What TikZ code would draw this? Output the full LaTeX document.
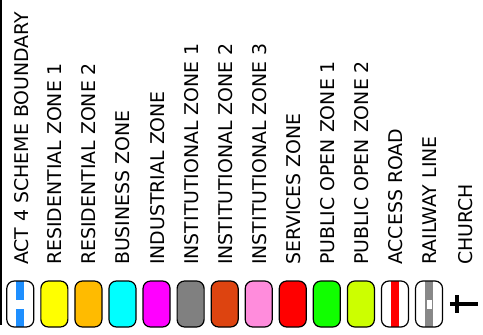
\documentclass[tikz,border=0pt]{standalone}
\usepackage{fontspec}
\setmainfont{DejaVu Sans}
\usepackage{tikz}
\usetikzlibrary{positioning}

\definecolor{boundblue}{HTML}{1E8FFF}
\definecolor{resone}{HTML}{FFFF00}
\definecolor{restwo}{HTML}{FFBB00}
\definecolor{business}{HTML}{00FFFF}
\definecolor{industrial}{HTML}{FF00FF}
\definecolor{instone}{HTML}{808080}
\definecolor{insttwo}{HTML}{DD4410}
\definecolor{instthree}{HTML}{FF8CDC}
\definecolor{services}{HTML}{FF0000}
\definecolor{openone}{HTML}{11FF00}
\definecolor{opentwo}{HTML}{CCFF00}
\definecolor{railgray}{HTML}{888888}

\begin{document}
\begin{tikzpicture}[
        x=1pt, y=1pt,
        node distance=7.06pt,
        swatch/.style={
            rectangle,
            draw,
            rounded corners=7.5pt,
            minimum width=27pt,
            minimum height=46pt,
            inner sep=0pt,
            outer sep=0pt,
            line width=1.2pt
        },
        stripe/.style={
            path picture={
                \fill[#1, sharp corners] ([xshift=-4pt]path picture bounding box.north)
                    rectangle ([xshift=4pt]path picture bounding box.south);
            }
        },
        gapstripe/.style 2 args={
            path picture={
                \fill[#1, sharp corners] ([xshift=-4pt]path picture bounding box.north)
                    rectangle ([xshift=4pt]path picture bounding box.south);
                \fill[white, sharp corners] ([xshift=-#2, yshift=-4.5pt]path picture bounding box.center)
                    rectangle ([xshift=#2, yshift=4.5pt]path picture bounding box.center);
            }
        },
        lbl/.style={
            rotate=90,
            anchor=base west,
            inner sep=0pt,
            font=\fontsize{18.9}{20}\selectfont
        },
        churchcross/.style={
            line width=4.5pt
        }
    ]

    \useasboundingbox (0,0) rectangle (483,-335);

    % Swatches
    \node[swatch, gapstripe={boundblue}{4.5pt}] (s1) at (20.3,-304) {};
    \node[swatch, fill=resone, right=of s1] (s2) {};
    \node[swatch, fill=restwo, right=of s2] (s3) {};
    \node[swatch, fill=business, right=of s3] (s4) {};
    \node[swatch, fill=industrial, right=of s4] (s5) {};
    \node[swatch, fill=instone, right=of s5] (s6) {};
    \node[swatch, fill=insttwo, right=of s6] (s7) {};
    \node[swatch, fill=instthree, right=of s7] (s8) {};
    \node[swatch, fill=services, right=of s8] (s9) {};
    \node[swatch, fill=openone, right=of s9] (s10) {};
    \node[swatch, fill=opentwo, right=of s10] (s11) {};
    \node[swatch, stripe=services, right=of s11] (s12) {};
    \node[swatch, gapstripe={railgray}{2.5pt}, right=of s12] (s13) {};
    \node[minimum width=28pt, minimum height=18pt, inner sep=0pt, outer sep=0pt, right=7.4pt of s13] (s14) {};

    % Church
    \draw[churchcross] (s14.west) -- (s14.east);
    \draw[churchcross] ([xshift=7pt]s14.north west) -- ([xshift=7pt]s14.south west);

    % Labels
    \node[lbl] (l1) at ([xshift=7.8pt, yshift=16pt]s1.north) {ACT 4 SCHEME BOUNDARY};
    \node[lbl] (l2) at ([xshift=7.5pt, yshift=16pt]s2.north) {RESIDENTIAL ZONE 1};
    \node[lbl] (l3) at ([xshift=7.5pt, yshift=16pt]s3.north) {RESIDENTIAL ZONE 2};
    \node[lbl] (l4) at ([xshift=7.5pt, yshift=16pt]s4.north) {BUSINESS ZONE};
    \node[lbl] (l5) at ([xshift=7.5pt, yshift=16pt]s5.north) {INDUSTRIAL ZONE};
    \node[lbl] (l6) at ([xshift=7.5pt, yshift=16pt]s6.north) {INSTITUTIONAL ZONE 1};
    \node[lbl] (l7) at ([xshift=7.5pt, yshift=16pt]s7.north) {INSTITUTIONAL ZONE 2};
    \node[lbl] (l8) at ([xshift=7.5pt, yshift=16pt]s8.north) {INSTITUTIONAL ZONE 3};
    \node[lbl] (l9) at ([xshift=7.5pt, yshift=16pt]s9.north) {SERVICES ZONE};
    \node[lbl] (l10) at ([xshift=7.5pt, yshift=16pt]s10.north) {PUBLIC OPEN ZONE 1};
    \node[lbl] (l11) at ([xshift=7.5pt, yshift=16pt]s11.north) {PUBLIC OPEN ZONE 2};
    \node[lbl] (l12) at ([xshift=7.5pt, yshift=16pt]s12.north) {ACCESS ROAD};
    \node[lbl] (l13) at ([xshift=7.5pt, yshift=16pt]s13.north) {RAILWAY LINE};
    \node[lbl] (l14) at ([xshift=8.5pt, yshift=16pt]s13.north -| s14.center) {CHURCH};

    % Edge line
    \coordinate (edgetop) at (1,0);
    \coordinate (edgebot) at (1,-325);
    \draw[line width=1.5pt] (edgetop) -- (edgebot);

    \end{tikzpicture}
\end{document}
